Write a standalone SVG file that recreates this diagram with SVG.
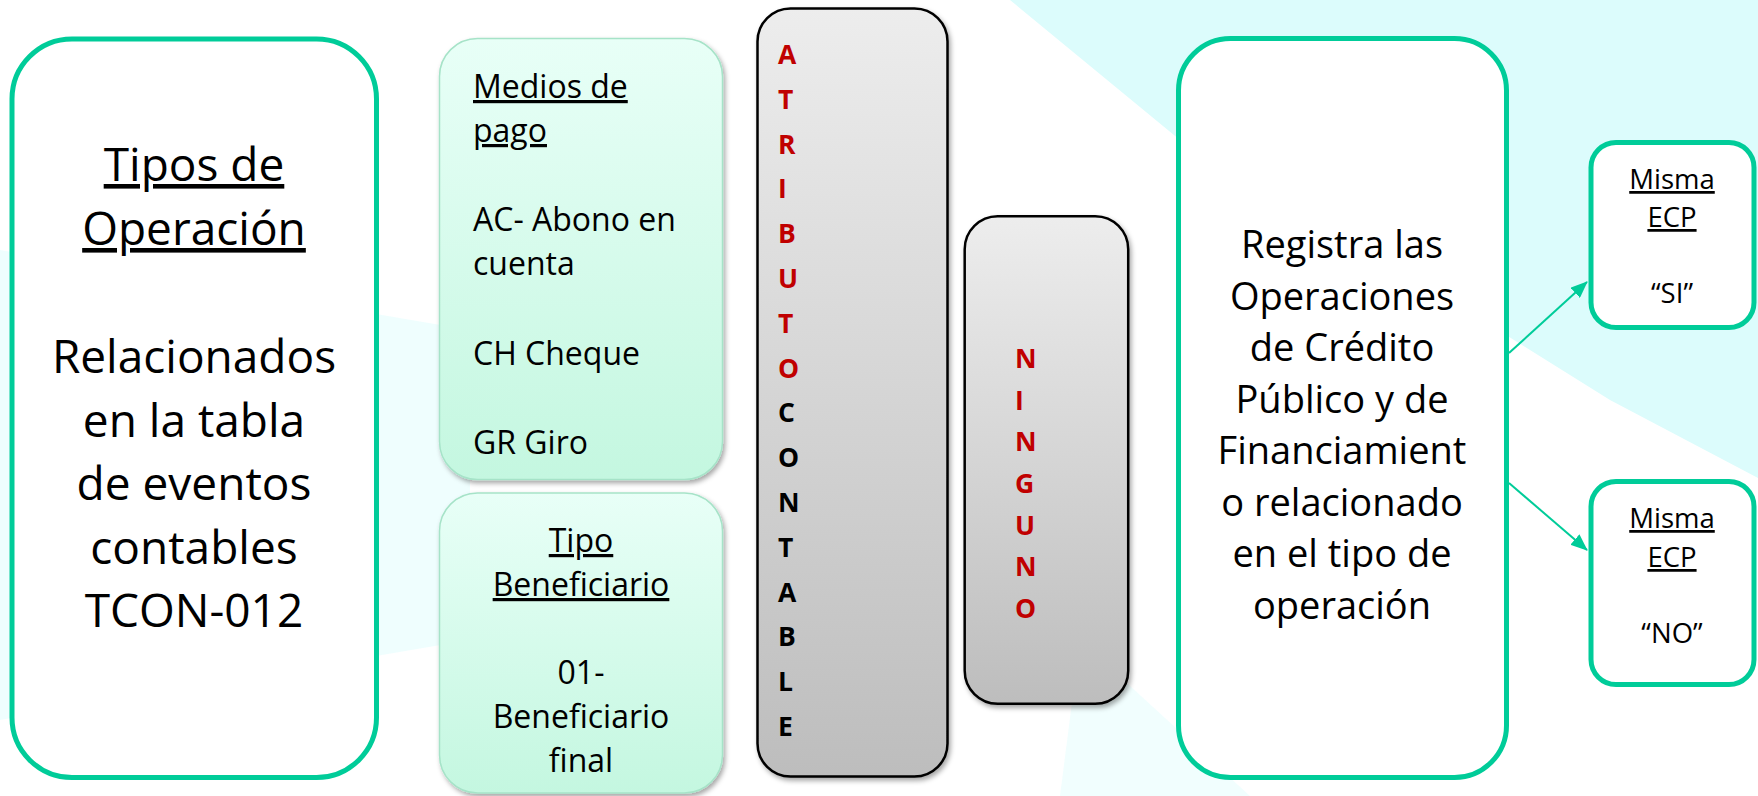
<svg xmlns="http://www.w3.org/2000/svg" width="1758" height="796" viewBox="0 0 1758 796">
  <defs>
    <linearGradient id="mint" x1="0" y1="0" x2="0" y2="1">
      <stop offset="0" stop-color="#E8FFF7"/>
      <stop offset="1" stop-color="#C4F7E0"/>
    </linearGradient>
    <linearGradient id="gray" x1="0" y1="0" x2="0" y2="1">
      <stop offset="0" stop-color="#EDEDED"/>
      <stop offset="1" stop-color="#BDBDBD"/>
    </linearGradient>
    <filter id="shadow" x="-10%" y="-10%" width="125%" height="125%">
      <feDropShadow dx="2" dy="3" stdDeviation="2.5" flood-color="#000" flood-opacity="0.35"/>
    </filter>
    <marker id="arrow" markerUnits="userSpaceOnUse" markerWidth="18" markerHeight="14" refX="16" refY="7" orient="auto">
      <path d="M0,0 L17,7 L0,14 Z" fill="#00CC99"/>
    </marker>
    <style>
      .green { fill: #FFFFFF; stroke: #00CC99; stroke-width: 5; }
      .mintbox { fill: url(#mint); stroke: #A6E3C8; stroke-width: 1.5; filter: url(#shadow); }
      .graybox { fill: url(#gray); stroke: #000; stroke-width: 2.5; filter: url(#shadow); }
      .t { font-family: "Open Sans", "Liberation Sans", sans-serif; fill: #000; }
      .big { font-size: 46px; text-anchor: middle; }
      .mid { font-size: 38px; text-anchor: middle; }
      .med { font-size: 32px; }
      .sm { font-size: 27.5px; text-anchor: middle; }
      .u { text-decoration: underline; }
      .v { font-family: "Open Sans", "Liberation Sans", sans-serif; font-weight: bold; font-size: 26.5px; }
      .red { fill: #C00000; }
      .blk { fill: #000; }
      .conn { stroke: #00CC99; stroke-width: 2; fill: none; marker-end: url(#arrow); }
    </style>
  </defs>

  <!-- background -->
  <rect x="0" y="0" width="1758" height="796" fill="#FFFFFF"/>
  <g id="background" fill="#DCFCFC">
    <polygon points="1010,0 1758,0 1758,478 1610,400 1450,300 1180,140"/>
    <polygon points="0,250 470,330 470,640 0,720" opacity="0.45"/>
    <polygon points="1080,640 1250,796 1060,796" opacity="0.4"/>
  </g>

  <g id="node-tipos">
    <rect class="green" x="12" y="39" width="364.5" height="738.5" rx="60"/>
    <text class="t big u" x="194" y="181">Tipos de</text>
    <text class="t big u" x="194" y="245">Operación</text>
    <text class="t big" x="194" y="373">Relacionados</text>
    <text class="t big" x="194" y="437">en la tabla</text>
    <text class="t big" x="194" y="500">de eventos</text>
    <text class="t big" x="194" y="564">contables</text>
    <text class="t big" x="194" y="627">TCON-012</text>
  </g>

  <g id="node-medios">
    <rect class="mintbox" x="439.5" y="38.5" width="283" height="441" rx="38"/>
    <text class="t med u" x="473" y="98">Medios de</text>
    <text class="t med u" x="473" y="142">pago</text>
    <text class="t med" x="473" y="231">AC- Abono en</text>
    <text class="t med" x="473" y="275">cuenta</text>
    <text class="t med" x="473" y="365">CH Cheque</text>
    <text class="t med" x="473" y="454">GR Giro</text>
  </g>

  <g id="node-beneficiario">
    <rect class="mintbox" x="439.5" y="493" width="283" height="300" rx="38"/>
    <text class="t med u" x="581" y="552" text-anchor="middle">Tipo</text>
    <text class="t med u" x="581" y="596" text-anchor="middle">Beneficiario</text>
    <text class="t med" x="581" y="684" text-anchor="middle">01-</text>
    <text class="t med" x="581" y="728" text-anchor="middle">Beneficiario</text>
    <text class="t med" x="581" y="772" text-anchor="middle">final</text>
  </g>

  <g id="node-atributo">
    <rect class="graybox" x="757.5" y="8.5" width="190" height="768" rx="33"/>
    <text class="v red" x="778" y="64">A</text>
    <text class="v red" x="778" y="108.8">T</text>
    <text class="v red" x="778" y="153.6">R</text>
    <text class="v red" x="778" y="198.4">I</text>
    <text class="v red" x="778" y="243.2">B</text>
    <text class="v red" x="778" y="288">U</text>
    <text class="v red" x="778" y="332.8">T</text>
    <text class="v red" x="778" y="377.6">O</text>
    <text class="v blk" x="778" y="422.4">C</text>
    <text class="v blk" x="778" y="467.2">O</text>
    <text class="v blk" x="778" y="512">N</text>
    <text class="v blk" x="778" y="556.8">T</text>
    <text class="v blk" x="778" y="601.6">A</text>
    <text class="v blk" x="778" y="646.4">B</text>
    <text class="v blk" x="778" y="691.2">L</text>
    <text class="v blk" x="778" y="736">E</text>
  </g>

  <g id="node-ninguno">
    <rect class="graybox" x="964.7" y="216.3" width="163.5" height="487.5" rx="33"/>
    <text class="v red" x="1015" y="368">N</text>
    <text class="v red" x="1015" y="410">I</text>
    <text class="v red" x="1015" y="451">N</text>
    <text class="v red" x="1015" y="493">G</text>
    <text class="v red" x="1015" y="535">U</text>
    <text class="v red" x="1015" y="576">N</text>
    <text class="v red" x="1015" y="618">O</text>
  </g>

  <g id="node-registra">
    <rect class="green" x="1178.5" y="38.5" width="328" height="739" rx="52"/>
    <text class="t mid" x="1342" y="258">Registra las</text>
    <text class="t mid" x="1342" y="309.5">Operaciones</text>
    <text class="t mid" x="1342" y="361">de Crédito</text>
    <text class="t mid" x="1342" y="412.5">Público y de</text>
    <text class="t mid" x="1342" y="464">Financiamient</text>
    <text class="t mid" x="1342" y="515.5">o relacionado</text>
    <text class="t mid" x="1342" y="567">en el tipo de</text>
    <text class="t mid" x="1342" y="618.5">operación</text>
  </g>

  <g id="node-si">
    <rect class="green" x="1591" y="142.5" width="163" height="185" rx="25"/>
    <text class="t sm u" x="1672" y="189">Misma</text>
    <text class="t sm u" x="1672" y="227">ECP</text>
    <text class="t sm" x="1672" y="303">“SI”</text>
  </g>

  <g id="node-no">
    <rect class="green" x="1591" y="481.5" width="163" height="203" rx="25"/>
    <text class="t sm u" x="1672" y="528">Misma</text>
    <text class="t sm u" x="1672" y="567">ECP</text>
    <text class="t sm" x="1672" y="643">“NO”</text>
  </g>

  <g id="connectors">
    <line class="conn" x1="1509" y1="353" x2="1587" y2="282"/>
    <line class="conn" x1="1509" y1="483" x2="1587" y2="550"/>
  </g>
</svg>
